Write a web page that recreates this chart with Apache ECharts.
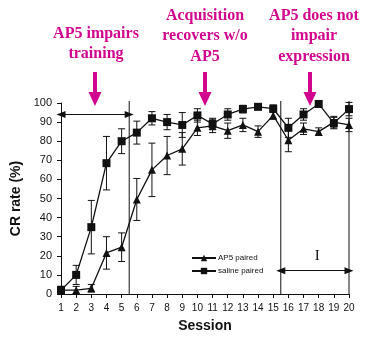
<!DOCTYPE html>
<html>
<head>
<meta charset="utf-8">
<script src="https://cdn.jsdelivr.net/npm/echarts@6/dist/echarts.min.js"></script>
<style>html,body{margin:0;padding:0;background:#fff;}#c{width:374px;height:338px;}</style>
</head>
<body>
<div id="c"></div>
<script>
var sessions = [1,2,3,4,5,6,7,8,9,10,11,12,13,14,15,16,17,18,19,20];
var xTickLabels = ['1','2','3','4','5','6','7','8','9','10','11','12','13','14','15','16','17','18','19','20'];
var saline = [2, 10, 35, 68.5, 80, 84.5, 92, 90, 88.5, 93.5, 89, 94, 96.8, 98, 97, 87, 94, 99.5, 89.5, 96.8];
var salineErr = [2, 5, 14, 14, 6.5, 6, 3.5, 4, 6.5, 3.5, 3, 3, 2, 1.5, 2, 5, 3, 1.5, 3, 3.5];
var ap5 = [2, 2, 3, 21.5, 24.5, 49.5, 65, 72.5, 76, 87, 88, 85.5, 88.5, 85, 93.5, 80.5, 86.5, 85, 90, 88.5];
var ap5Err = [2, 2, 2, 8.5, 7.5, 11, 14, 10, 8.5, 4, 3.5, 4, 3.5, 3, 2, 6, 3, 2, 3, 3.5];
var phaseLines = [5.5, 15.5, 20];
var trainArrow = {from: 1, to: 5.5, y: 94};
var testArrow = {from: 15.5, to: 20, y: 12.2};
var testLabel = {x: 17.9, y: 20, text: 'I'};

var MAG = '#d2058e';
var chart = echarts.init(document.getElementById('c'));

function pairs(vals){ return sessions.map(function(s,i){ return [s, vals[i]]; }); }
function errData(vals, errs){ return sessions.map(function(s,i){ return [s, vals[i]-errs[i], vals[i]+errs[i]]; }); }
function errRender(params, api){
  var x = api.value(0);
  var lo = api.coord([x, api.value(1)]);
  var hi = api.coord([x, api.value(2)]);
  var cw = 3.5;
  return {type:'group', children:[
    {type:'line', shape:{x1:lo[0],y1:lo[1],x2:hi[0],y2:hi[1]}, style:{stroke:'#111',lineWidth:1}},
    {type:'line', shape:{x1:lo[0]-cw,y1:lo[1],x2:lo[0]+cw,y2:lo[1]}, style:{stroke:'#111',lineWidth:1}},
    {type:'line', shape:{x1:hi[0]-cw,y1:hi[1],x2:hi[0]+cw,y2:hi[1]}, style:{stroke:'#111',lineWidth:1}}
  ]};
}
function phaseRender(params, api){
  var x = api.value(0);
  var lo = api.coord([x, 0]);
  var hi = api.coord([x, 100]);
  return {type:'line', shape:{x1:lo[0],y1:lo[1],x2:hi[0],y2:hi[1]-2}, style:{stroke:'#111',lineWidth:1}};
}
function arrowPoly(cx){
  return [[cx-2,72],[cx+2,72],[cx+2,92],[cx+6.5,92],[cx,106],[cx-6.5,92],[cx-2,92]];
}
var serif = 'bold 16px "Liberation Serif", "Times New Roman", serif';
function magText(x, y, t){
  return {type:'text', x:x, y:y, style:{text:t, font:serif, fill:MAG, textAlign:'center', textVerticalAlign:'middle'}};
}

chart.setOption({
  animation:false,
  textStyle:{fontFamily:'"Liberation Sans", Arial, sans-serif'},
  grid:{left:61, right:25, top:103, bottom:44},
  legend:{
    orient:'vertical', left:186, top:249, itemWidth:24, itemHeight:8, itemGap:5,
    textStyle:{fontSize:8, color:'#111', padding:[0,0,0,-3]},
    data:['AP5 paired','saline paired']
  },
  xAxis:{
    type:'value', min:1, max:20, interval:1,
    name:'Session', nameLocation:'middle', nameGap:25,
    nameTextStyle:{fontSize:14, fontWeight:'bold', color:'#111'},
    axisLine:{lineStyle:{color:'#111', width:1}},
    axisTick:{length:4, lineStyle:{color:'#111'}},
    axisLabel:{fontSize:10, color:'#111', margin:9, formatter:function(v){ return xTickLabels[v-1] || ''; }},
    splitLine:{show:false}
  },
  yAxis:{
    type:'value', min:0, max:100, interval:10,
    name:'CR rate (%)', nameLocation:'middle', nameGap:30, nameRotate:90,
    nameTextStyle:{fontSize:14, fontWeight:'bold', color:'#111'},
    axisLine:{show:true, lineStyle:{color:'#111', width:1}},
    axisTick:{show:true, length:4, lineStyle:{color:'#111'}},
    axisLabel:{fontSize:11, color:'#111', margin:9},
    splitLine:{show:false}
  },
  series:[
    {type:'custom', name:'phases', renderItem:phaseRender, data:phaseLines.map(function(p){ return [p]; }), z:2, silent:true, clip:false},
    {type:'custom', name:'errAP5', renderItem:errRender, data:errData(ap5, ap5Err), z:3, silent:true, clip:false},
    {type:'custom', name:'errSal', renderItem:errRender, data:errData(saline, salineErr), z:3, silent:true, clip:false},
    {type:'line', name:'AP5 paired', data:pairs(ap5), symbol:'triangle', symbolSize:8, clip:false,
      lineStyle:{color:'#111', width:1.3}, itemStyle:{color:'#111'}, z:5,
      markLine:{silent:true, symbol:['triangle','triangle'], symbolSize:[7,9], label:{show:false},
        lineStyle:{color:'#111', width:1, type:'solid'},
        data:[
          [{coord:[trainArrow.from, trainArrow.y]},{coord:[trainArrow.to, trainArrow.y]}],
          [{coord:[testArrow.from, testArrow.y]},{coord:[testArrow.to, testArrow.y]}]
        ]
      },
      markPoint:{symbol:'circle', symbolSize:1, itemStyle:{color:'rgba(0,0,0,0)'},
        label:{show:true, position:'inside', color:'#111', fontSize:15, fontFamily:'"Liberation Serif", serif', formatter:testLabel.text},
        data:[{coord:[testLabel.x, testLabel.y]}]}
    },
    {type:'line', name:'saline paired', data:pairs(saline), symbol:'rect', symbolSize:8, clip:false,
      lineStyle:{color:'#111', width:1.3}, itemStyle:{color:'#111'}, z:5}
  ],
  graphic:[
    {type:'polygon', shape:{points:arrowPoly(95)}, style:{fill:MAG}},
    {type:'polygon', shape:{points:arrowPoly(205)}, style:{fill:MAG}},
    {type:'polygon', shape:{points:arrowPoly(310)}, style:{fill:MAG}},
    magText(96, 34, 'AP5 impairs'),
    magText(96, 54, 'training'),
    magText(205, 16, 'Acquisition'),
    magText(205, 36, 'recovers w/o'),
    magText(205, 56.5, 'AP5'),
    magText(314, 16, 'AP5 does not'),
    magText(314, 36, 'impair'),
    magText(314, 56.5, 'expression')
  ]
});
</script>
</body>
</html>
